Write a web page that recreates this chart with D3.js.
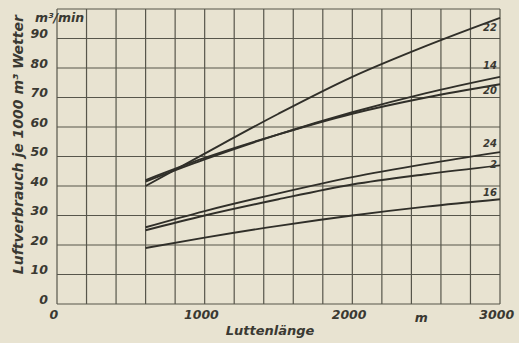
<!DOCTYPE html>
<html>
<head>
<meta charset="utf-8">
<script src="https://cdn.jsdelivr.net/npm/d3@7"></script>
<style>
  html, body { margin: 0; padding: 0; background: #e8e3d1; }
  svg { display: block; }
  text { font-family: "DejaVu Sans", sans-serif; font-style: italic; font-weight: bold; fill: #3a3932; }
</style>
</head>
<body>
<svg id="chart" width="519" height="343"></svg>
<script>
// Duct length (m) at which each curve is sampled
const lengths = [600, 1000, 1500, 2000, 2500, 3000];

// Air consumption per 1000 m³ of ventilated air, m³/min
const s22 = [40, 51, 64.5, 77, 87.5, 97];
const s14 = [41.5, 49, 57.5, 65, 71.5, 77];
const s20 = [42, 49.5, 57.5, 64.5, 70, 74.5];
const s24 = [26, 31.5, 37.5, 43, 47.5, 51.5];
const s2  = [25, 30, 35.5, 40.5, 44, 47];
const s16 = [19, 22.5, 26.5, 30, 33, 35.5];

const curveNames = ["22", "14", "20", "24", "2", "16"];
const curveValues = [s22, s14, s20, s24, s2, s16];

const xTicks = [0, 1000, 2000, 3000];
const yTicks = [0, 10, 20, 30, 40, 50, 60, 70, 80, 90];

const svg = d3.select("#chart");
const margin = { left: 57, right: 19, top: 9, bottom: 39 };
const W = 519, H = 343;

const x = d3.scaleLinear().domain([0, 3000]).range([margin.left, W - margin.right]);
const y = d3.scaleLinear().domain([0, 100]).range([H - margin.bottom, margin.top]);

const gridInk = "#57564b";

// grid: every 200 m and every 10 m³/min
const grid = svg.append("g");
grid.selectAll("line.v").data(d3.range(0, 3001, 200)).join("line")
  .attr("x1", d => x(d)).attr("x2", d => x(d))
  .attr("y1", y(0)).attr("y2", y(100))
  .attr("stroke", gridInk).attr("stroke-width", 1.2);
grid.selectAll("line.h").data(d3.range(0, 101, 10)).join("line")
  .attr("x1", x(0)).attr("x2", x(3000))
  .attr("y1", d => y(d)).attr("y2", d => y(d))
  .attr("stroke", gridInk).attr("stroke-width", 1.2);

// y axis labels
const yAxis = d3.axisLeft(y).tickValues(yTicks).tickSize(0).tickPadding(9).tickFormat(d3.format("d"));
const gy = svg.append("g").attr("transform", `translate(${x(0)},0)`).call(yAxis);
gy.select(".domain").remove();
gy.selectAll("text").attr("dy", "-0.05em").style("font-size", "12.5px");

// x axis labels
const xAxis = d3.axisBottom(x).tickValues(xTicks).tickSize(0).tickPadding(6).tickFormat(d3.format("d"));
const gx = svg.append("g").attr("transform", `translate(0,${y(0)})`).call(xAxis);
gx.select(".domain").remove();
gx.selectAll("text").attr("dx", "-0.3em").style("font-size", "12.5px");

// unit labels
svg.append("text").attr("x", x(2500) - 5).attr("y", y(0) + 18)
  .attr("text-anchor", "middle").style("font-size", "12.5px").text("m");
svg.append("text").attr("x", x(0) - 22).attr("y", y(100) + 13)
  .style("font-size", "12.5px").text("m³/min");

// axis titles
svg.append("text").attr("x", 270).attr("y", 335)
  .attr("text-anchor", "middle").style("font-size", "13px").text("Luttenlänge");
svg.append("text")
  .attr("transform", `translate(23,${y(54)}) rotate(-90)`)
  .attr("text-anchor", "middle").style("font-size", "14px")
  .text("Luftverbrauch je 1000 m³ Wetter");

// curves
const line = d3.line().x(d => x(d[0])).y(d => y(d[1])).curve(d3.curveMonotoneX);
curveValues.forEach(vals => {
  svg.append("path")
    .datum(lengths.map((l, j) => [l, vals[j]]))
    .attr("d", line)
    .attr("fill", "none")
    .attr("stroke", "#302f29")
    .attr("stroke-width", 1.9);
});

// curve labels next to the right-hand ends (baseline offset in px from the line end)
const labelShift = { "22": 13, "14": -8, "20": 10, "24": -5, "2": 3, "16": -3 };
curveNames.forEach((n, i) => {
  const v = curveValues[i][curveValues[i].length - 1];
  svg.append("text")
    .attr("x", x(3000) - 3).attr("y", y(v) + labelShift[n])
    .attr("text-anchor", "end").style("font-size", "10px").text(n);
});
</script>
</body>
</html>
